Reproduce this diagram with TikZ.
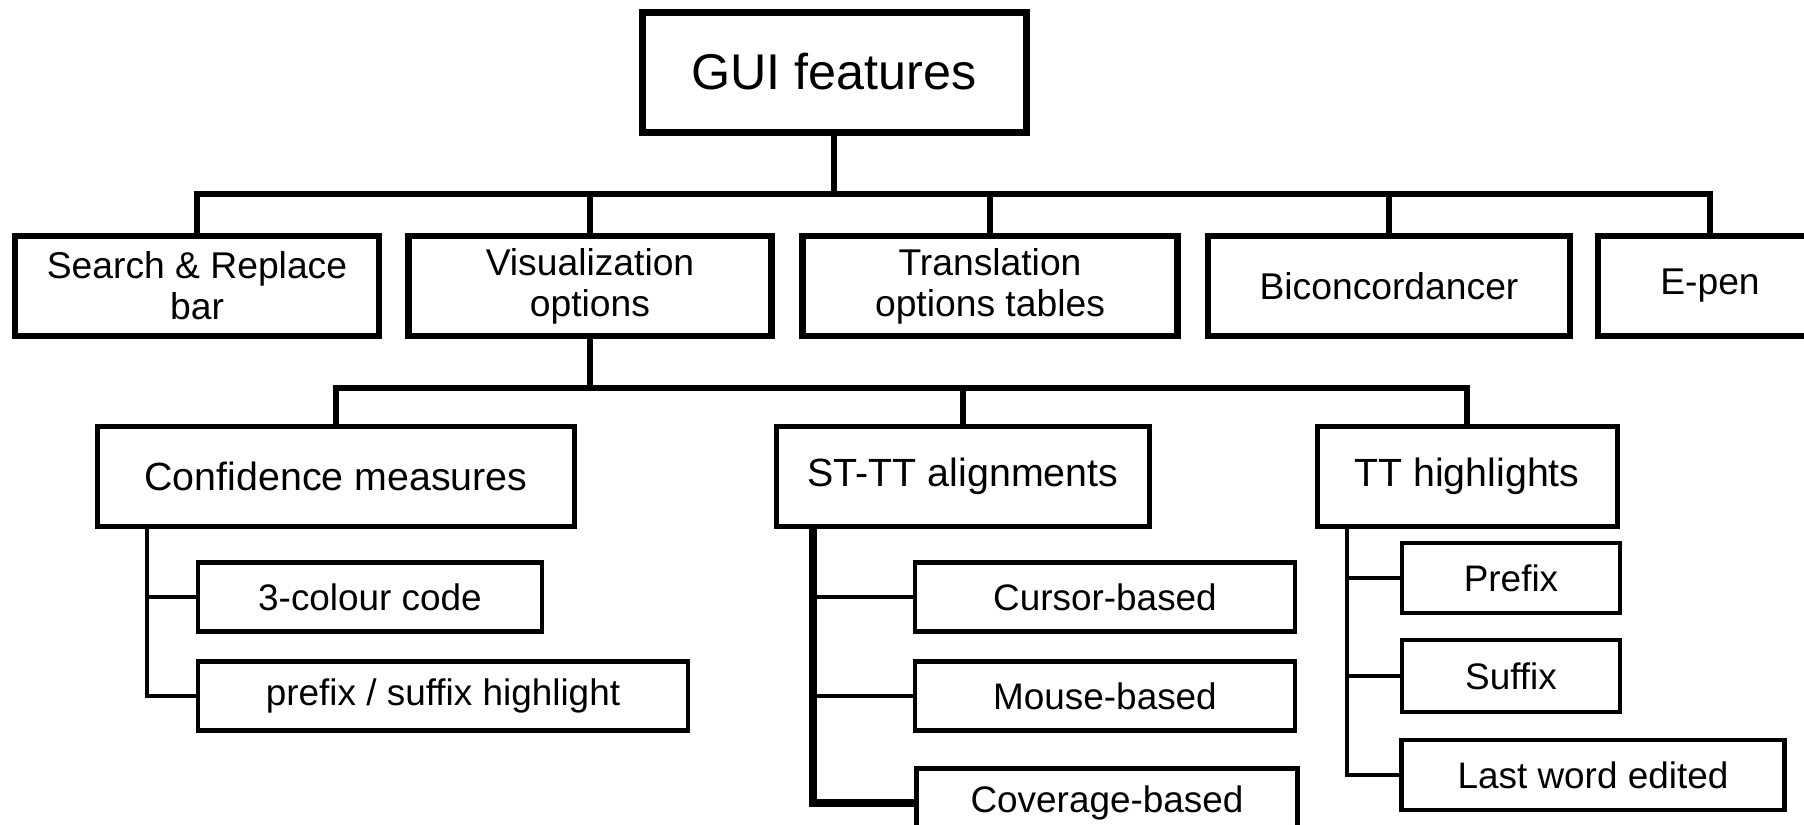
\documentclass[tikz,border=0pt]{standalone}
\usepackage{fontspec}
\setmainfont{Liberation Sans}
\usepackage{tikz}

\begin{document}
\begin{tikzpicture}[x=0.1mm,y=-0.1mm,
    rootbox/.style={draw, line width=0.7mm, inner sep=0pt,
        minimum width=38.4mm, minimum height=12mm,
        font=\fontsize{14.3}{17}\selectfont},
    featbox/.style={draw, line width=0.65mm, inner sep=0pt,
        minimum height=10mm, align=center,
        font=\fontsize{10.6}{11.6}\selectfont},
    optbox/.style={draw, line width=0.5mm, inner sep=0pt,
        minimum height=10mm, font=\fontsize{11.2}{13}\selectfont},
    leafbox/.style={draw, line width=0.45mm, inner sep=0pt,
        minimum height=6.9mm, font=\fontsize{10.5}{12}\selectfont},
    link/.style={line width=0.55mm}]

\useasboundingbox (0,0) rectangle (1804,824);

% GUI features
\node[rootbox] (gui) at (834,72) {GUI features};

% first level
\node[featbox, minimum width=36.4mm] (search) at (197,286) {Search \& Replace\\bar};
\node[featbox, minimum width=36.3mm] (vis) at (590,286) {Visualization\\options};
\node[featbox, minimum width=37.5mm] (trans) at (990,286) {Translation\\options tables};
\node[featbox, minimum width=36.2mm] (bicon) at (1389,286) {Biconcordancer};
\node[featbox, minimum width=22.4mm] (epen) at (1710,286) {E-pen};

\coordinate (bus1) at (0,194);
\draw[link] (gui.south) -- (gui.south |- bus1);
\draw[link] (search.north) -- (search.north |- bus1) -- (epen.north |- bus1) -- (epen.north);
\foreach \n in {vis,trans,bicon}{
    \draw[link] (\n.north) -- (\n.north |- bus1);
}

% visualization options
\node[optbox, minimum width=47.7mm] (conf) at (336,476) {Confidence measures};
\node[optbox, minimum width=37.3mm] (stt) at (963,476) {ST-TT alignments};
\node[optbox, minimum width=30.0mm] (tth) at (1467,476) {TT highlights};

\coordinate (bus2) at (0,388);
\draw[link] (vis.south) -- (vis.south |- bus2);
\draw[link] (conf.north) -- (conf.north |- bus2) -- (tth.north |- bus2) -- (tth.north);
\draw[link] (stt.north) -- (stt.north |- bus2);

% confidence measures
\node[leafbox, minimum width=34.4mm] (colour3) at (370,597) {3-colour code};
\node[leafbox, minimum width=49.0mm] (presuf) at (443,696) {prefix / suffix highlight};

\coordinate (confspine) at (147,526);
\draw[link, line width=0.45mm] (confspine) |- (presuf.west);
\draw[link, line width=0.45mm] (confspine |- colour3.west) -- (colour3.west);

% alignments
\node[leafbox, minimum width=38.0mm] (cursor) at (1105,597) {Cursor-based};
\node[leafbox, minimum width=38.0mm] (mouse) at (1105,696) {Mouse-based};
\node[leafbox, minimum width=38.1mm] (cover) at (1107,803) {Coverage-based};

\coordinate (sttspine) at (813,526);
\draw[line width=0.8mm] (sttspine) |- (cover.west);
\foreach \n in {cursor,mouse}{
    \draw[link, line width=0.45mm] (sttspine |- \n.west) -- (\n.west);
}

% highlights
\node[leafbox, minimum width=21.8mm, minimum height=7.0mm] (prefix) at (1511,578) {Prefix};
\node[leafbox, minimum width=21.8mm, minimum height=7.2mm] (suffix) at (1511,676) {Suffix};
\node[leafbox, minimum width=38.3mm, minimum height=7.0mm] (lastword) at (1593,775) {Last word edited};

\coordinate (tthspine) at (1347,527);
\draw[link, line width=0.45mm] (tthspine) |- (lastword.west);
\foreach \n in {prefix,suffix}{
    \draw[link, line width=0.45mm] (tthspine |- \n.west) -- (\n.west);
}

\end{tikzpicture}
\end{document}
